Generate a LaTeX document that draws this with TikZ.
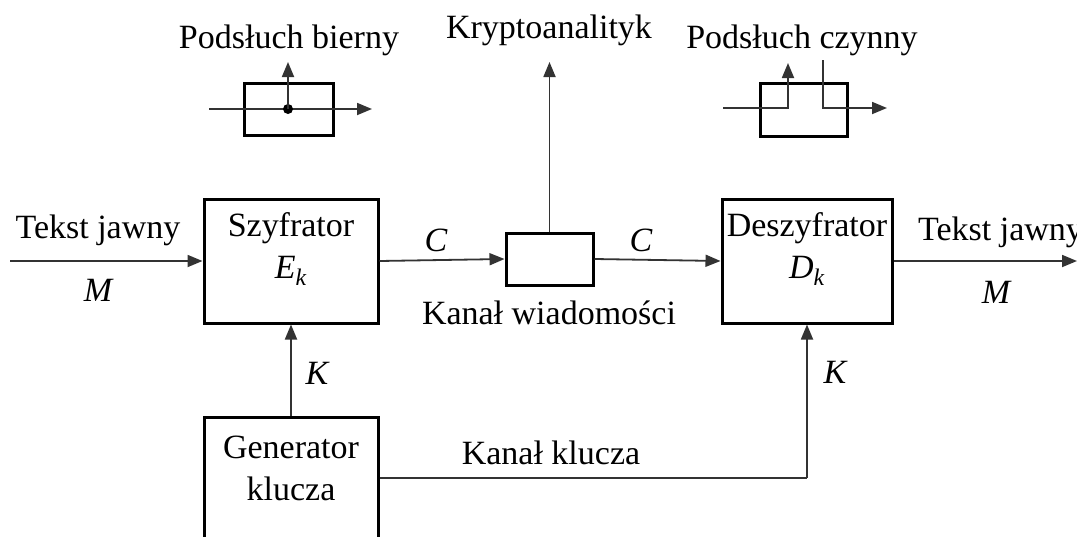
\documentclass[tikz,border=0pt]{standalone}
\usepackage{fontspec}
\setmainfont{Liberation Serif}
\usetikzlibrary{arrows.meta}
\begin{document}
\begin{tikzpicture}[x=1pt,y=-1pt,
  every node/.style={font=\fontsize{34}{42}\selectfont, inner sep=0pt},
  blk/.style={draw=black, line width=3pt, fill=white, minimum width=#1},
  conn/.style={draw=black!80, line width=1.8pt, -{Triangle[length=15pt,width=12pt]}},
  plain/.style={draw=black!80, line width=1.8pt},
  lab/.style={font=\fontsize{34}{42}\selectfont\itshape}]
\useasboundingbox (0,0) rectangle (1077,536);
\clip (0,0) rectangle (1077,536);
% main blocks
\node[blk=174pt, minimum height=124pt] (enc) at (291,261) {};
\node[blk=170pt, minimum height=124pt] (dec) at (807,261) {};
\node[blk=87pt, minimum height=52pt, line width=3pt] (chan) at (549.5,259) {};
\node[blk=174pt, minimum height=163pt] (gen) at (291,498.5) {};
\node[align=center] (enct) at (291,249) {Szyfrator\\[0pt]\textit{E}\textsubscript{\textit{k}}};
\node[align=center] (dect) at (807,249) {Deszyfrator\\[0pt]\textit{D}\textsubscript{\textit{k}}};
\node[align=center] (gent) at (291,468) {Generator\\[0pt]klucza};
% coordinates
\coordinate (in) at (10,261);
\coordinate (out) at (1077,261);
\coordinate (kr) at (549.5,62);
\coordinate (kk) at (807,478);
% connectors
\draw[conn] (in) -- (enc.west);
\draw[conn] (enc.east) -- (chan.west);
\draw[conn] (chan.east) -- (dec.west);
\draw[conn] (dec.east) -- (out);
\draw[conn] (chan.north) -- (kr);
\draw[conn] (gen.north) -- (enc.south);
\draw[plain] (gen.east |- kk) -- (kk);
\draw[conn] (kk) -- (dec.south);
% labels
\node (t1) at (98,230) {Tekst jawny};
\node[lab] (m1) at (98,290) {M};
\node[anchor=west] (t2) at (918,232) {Tekst jawny};
\node[lab] (m2) at (996,292) {M};
\node[lab] (c1) at (436,240) {C};
\node[lab] (c2) at (641,240) {C};
\node (kw) at (549,313) {Kanał wiadomości};
\node[lab] (k1) at (317,373) {K};
\node[lab] (k2) at (835,372) {K};
\node (kl) at (551,453) {Kanał klucza};
\node (kra) at (549,30) {Kryptoanalityk};
% Podsluch bierny
\node (pbt) at (289,40) {Podsłuch bierny};
\node[blk=89pt, minimum height=52pt, fill=none] (pb) at (288.5,109) {};
\coordinate (pbL) at (209,109);
\coordinate (pbR) at (372,109);
\coordinate (pbD) at (288,109);
\coordinate (pbU) at (288,62);
\draw[conn] (pbL) -- (pbR);
\fill (pbD) circle (5pt);
\draw[conn] (pbD) -- (pbU);
% Podsluch czynny
\node (pct) at (802,40) {Podsłuch czynny};
\node[blk=87pt, minimum height=53pt, fill=none] (pc) at (803.5,109.5) {};
\coordinate (pcL) at (723,108);
\coordinate (pcA) at (788,108);
\coordinate (pcU) at (788,63);
\coordinate (pcT) at (823,60);
\coordinate (pcB) at (823,108);
\coordinate (pcR) at (887,108);
\draw[conn] (pcL) -- (pcA) -- (pcU);
\draw[conn] (pcT) -- (pcB) -- (pcR);
\end{tikzpicture}
\end{document}
